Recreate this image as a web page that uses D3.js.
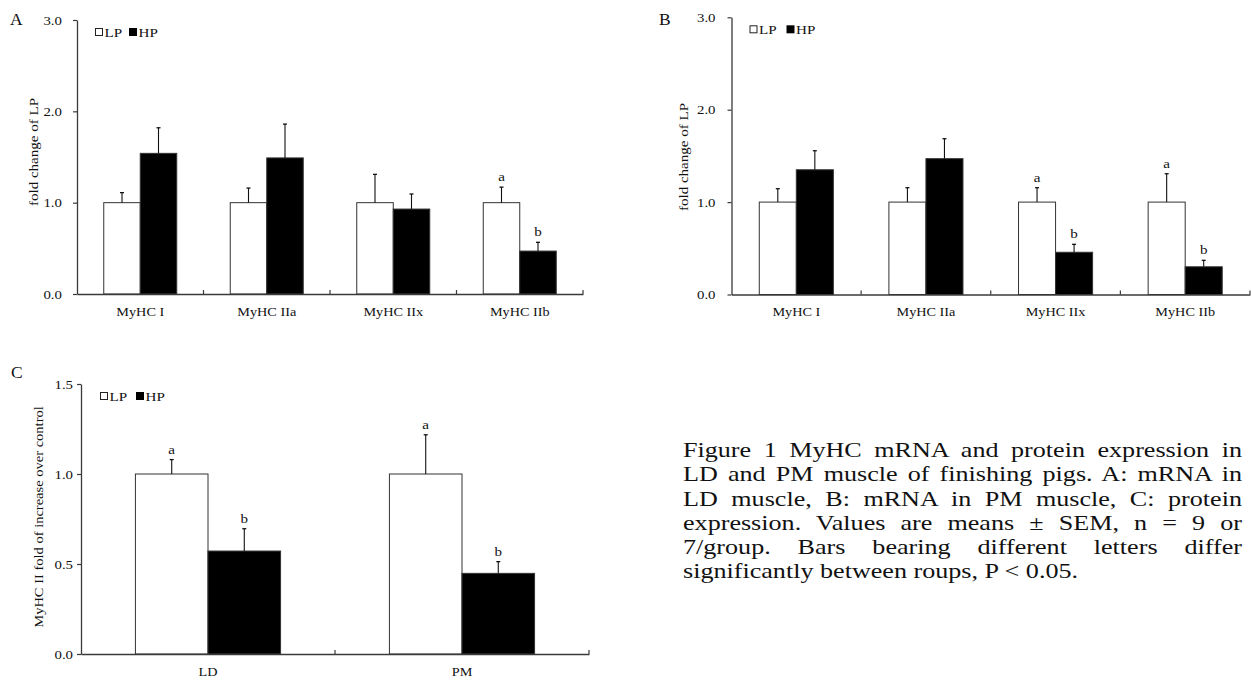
<!DOCTYPE html>
<html>
<head>
<meta charset="utf-8">
<script src="https://cdn.jsdelivr.net/npm/d3@7"></script>
<style>
  body { margin: 0; background: #fff; }
  #wrap { position: relative; width: 1251px; height: 684px; overflow: hidden; }
  svg { position: absolute; left: 0; top: 0; }
  svg text { font-family: "Liberation Serif", "Times New Roman", serif; fill: #111; }
  #caption { position: absolute; left: 683px; top: 438px; width: 436.7px;
    transform: scaleX(1.28); transform-origin: 0 0;
    font-family: "Liberation Serif", "Times New Roman", serif; font-size: 20.4px;
    line-height: 24.3px; color: #111; }
  #caption div { text-align: justify; text-align-last: justify; white-space: nowrap; }
  #caption div.last { text-align-last: left; }
</style>
</head>
<body>
<div id="wrap">
<svg id="chart" width="1251" height="684"></svg>
<div id="caption"></div>
</div>
<script>
// data
var catsMRNA = ["MyHC I", "MyHC IIa", "MyHC IIx", "MyHC IIb"];
var catsProt = ["LD", "PM"];
var groups = ["LP", "HP"];

// A: mRNA in LD muscle
var lpA = [1.0, 1.0, 1.0, 1.0];
var lpErrA = [0.11, 0.16, 0.31, 0.17];
var hpA = [1.54, 1.49, 0.93, 0.47];
var hpErrA = [0.28, 0.37, 0.165, 0.096];
var lpLetA = ["", "", "", "a"];
var hpLetA = ["", "", "", "b"];

// B: mRNA in PM muscle
var lpB = [1.0, 1.0, 1.0, 1.0];
var lpErrB = [0.145, 0.156, 0.156, 0.307];
var hpB = [1.35, 1.47, 0.457, 0.30];
var hpErrB = [0.206, 0.216, 0.086, 0.07];
var lpLetB = ["", "", "a", "a"];
var hpLetB = ["", "", "b", "b"];

// C: protein
var lpC = [1.0, 1.0];
var lpErrC = [0.08, 0.218];
var hpC = [0.572, 0.448];
var hpErrC = [0.124, 0.065];
var lpLetC = ["a", "a"];
var hpLetC = ["b", "b"];

var ticksAB = [0, 1, 2, 3];
var ticksC = [0, 0.5, 1, 1.5];

var captionLines = [
  "Figure 1 MyHC mRNA and protein expression in",
  "LD and PM muscle of finishing pigs. A: mRNA in",
  "LD muscle, B: mRNA in PM muscle, C: protein",
  "expression. Values are means \u00b1 SEM, n = 9 or",
  "7/group. Bars bearing different letters differ",
  "significantly between roups, P < 0.05."
];

var svg = d3.select("#chart");
var axisCol = "#3a3a3a";

// the original glyphs are wider than Times, widen along the reading direction
function stretch(sel, k) {
  sel.each(function() {
    var t = d3.select(this);
    var x = +t.attr("x") || 0;
    t.attr("x", x / k);
    var tr = t.attr("transform") || "";
    t.attr("transform", tr + " scale(" + k + ",1)");
  });
}

function drawPanel(p) {
  var g = svg.append("g");
  var y = d3.scaleLinear().domain([0, p.max]).range([p.y0, p.y1]);
  var x = d3.scaleBand().domain(p.cats).range([p.x0, p.x1]).padding(0);
  var xs = d3.scaleBand().domain(groups).range([0, x.bandwidth()]).paddingOuter(p.po).paddingInner(0);

  var rows = p.cats.map(function(c, i) {
    return [
      {cat: c, grp: "LP", v: p.lp[i], e: p.lpErr[i], l: p.lpLet[i]},
      {cat: c, grp: "HP", v: p.hp[i], e: p.hpErr[i], l: p.hpLet[i]}
    ];
  });
  var items = [].concat.apply([], rows);

  // bars
  g.selectAll("rect.bar").data(items).enter().append("rect")
    .attr("class", "bar")
    .attr("x", function(d) { return x(d.cat) + xs(d.grp); })
    .attr("y", function(d) { return y(d.v); })
    .attr("width", xs.bandwidth())
    .attr("height", function(d) { return y(0) - y(d.v); })
    .attr("fill", function(d) { return d.grp == "LP" ? "#fff" : "#000"; })
    .attr("stroke", "#333")
    .attr("stroke-width", 1);

  // error bars, upward only
  var cx = function(d) { return x(d.cat) + xs(d.grp) + xs.bandwidth() / 2; };
  g.selectAll("line.err").data(items).enter().append("line")
    .attr("x1", cx).attr("x2", cx)
    .attr("y1", function(d) { return y(d.v); })
    .attr("y2", function(d) { return y(d.v + d.e); })
    .attr("stroke", "#111").attr("stroke-width", 1.1);
  g.selectAll("line.cap").data(items).enter().append("line")
    .attr("x1", function(d) { return cx(d) - 2; })
    .attr("x2", function(d) { return cx(d) + 2; })
    .attr("y1", function(d) { return y(d.v + d.e); })
    .attr("y2", function(d) { return y(d.v + d.e); })
    .attr("stroke", "#111").attr("stroke-width", 1.3);

  // significance letters
  var lets = g.selectAll("text.let").data(items.filter(function(d) { return d.l; })).enter().append("text")
    .attr("x", cx)
    .attr("y", function(d) { return y(d.v + d.e) - 6; })
    .attr("text-anchor", "middle")
    .attr("font-size", 13.5)
    .text(function(d) { return d.l; });
  stretch(lets, 1.12);

  // y axis
  var ay = g.append("g")
    .attr("transform", "translate(" + p.x0 + ",0)")
    .call(d3.axisLeft(y).tickValues(p.ticks).tickFormat(d3.format(".1f"))
      .tickSizeInner(4).tickSizeOuter(0).tickPadding(p.tp));
  ay.select(".domain").attr("stroke", axisCol).attr("stroke-width", 1.3);
  ay.selectAll(".tick line").attr("stroke", axisCol).attr("stroke-width", 1.2);
  ay.selectAll(".tick text").attr("font-size", 12.8).attr("font-family", "Liberation Serif").attr("fill", "#111");
  stretch(ay.selectAll(".tick text"), 1.16);

  // x axis with labels at band centres
  var ax = g.append("g")
    .attr("transform", "translate(0," + p.y0 + ")")
    .call(d3.axisBottom(x).tickSize(0).tickPadding(p.lp_pad));
  ax.select(".domain").attr("stroke", axisCol).attr("stroke-width", 1.3);
  ax.selectAll(".tick text").attr("font-size", 12.5).attr("font-family", "Liberation Serif").attr("fill", "#111");
  stretch(ax.selectAll(".tick text"), 1.14);

  // inward ticks at category boundaries
  g.selectAll("line.xt").data(p.cats).enter().append("line")
    .attr("x1", function(c) { return x(c) + x.bandwidth(); })
    .attr("x2", function(c) { return x(c) + x.bandwidth(); })
    .attr("y1", p.y0).attr("y2", p.y0 - 4)
    .attr("stroke", axisCol).attr("stroke-width", 1.2);

  // y title
  var yt = g.append("text")
    .attr("transform", "translate(" + p.tx + "," + p.ty + ") rotate(-90)")
    .attr("text-anchor", "middle")
    .attr("dy", "0.35em")
    .attr("font-size", 13.2)
    .text(p.title);
  stretch(yt, p.tk);

  // panel letter
  g.append("text").attr("x", p.lx).attr("y", p.ly).attr("font-size", 17.5).text(p.label);

  // legend
  var lg = g.append("g").attr("transform", "translate(" + (p.x0 + p.legDx) + "," + (p.y1 + 8) + ")");
  lg.append("rect").attr("x", 0.5).attr("y", 0.5).attr("width", 7).attr("height", 7)
    .attr("fill", "#fff").attr("stroke", "#222").attr("stroke-width", 1);
  lg.append("rect").attr("x", p.legGap).attr("y", 0).attr("width", 8).attr("height", 8).attr("fill", "#000");
  var lt = lg.selectAll("text.lg").data(groups).enter().append("text")
    .attr("x", function(d, i) { return 9.5 + i * p.legGap; })
    .attr("y", 8.5).attr("font-size", 13.5)
    .text(function(d) { return d; });
  stretch(lt, 1.12);
}

drawPanel({cats: catsMRNA, lp: lpA, lpErr: lpErrA, hp: hpA, hpErr: hpErrA, lpLet: lpLetA, hpLet: hpLetA,
  max: 3, ticks: ticksAB, x0: 77, x1: 583, y0: 294, y1: 20, po: 0.733, tp: 11, lp_pad: 13,
  tx: 33, ty: 152, tk: 1.14, title: "fold change of LP", label: "A", lx: 10, ly: 25, legDx: 18, legGap: 34});

drawPanel({cats: catsMRNA, lp: lpB, lpErr: lpErrB, hp: hpB, hpErr: hpErrB, lpLet: lpLetB, hpLet: hpLetB,
  max: 3, ticks: ticksAB, x0: 731.5, x1: 1250, y0: 294.5, y1: 17.3, po: 0.75, tp: 12, lp_pad: 13,
  tx: 683, ty: 157, tk: 1.14, title: "fold change of LP", label: "B", lx: 659, ly: 25, legDx: 18, legGap: 37});

drawPanel({cats: catsProt, lp: lpC, lpErr: lpErrC, hp: hpC, hpErr: hpErrC, lpLet: lpLetC, hpLet: hpLetC,
  max: 1.5, ticks: ticksC, x0: 81, x1: 589, y0: 654, y1: 384, po: 0.75, tp: 4, lp_pad: 13,
  tx: 38, ty: 517, tk: 1.1, title: "MyHC II fold of increase over control", label: "C", lx: 11, ly: 378, legDx: 19, legGap: 36});

// caption, one justified line each
d3.select("#caption").selectAll("div").data(captionLines).enter().append("div")
  .attr("class", function(d, i) { return i == captionLines.length - 1 ? "last" : null; })
  .text(function(d) { return d; });
</script>
</body>
</html>
